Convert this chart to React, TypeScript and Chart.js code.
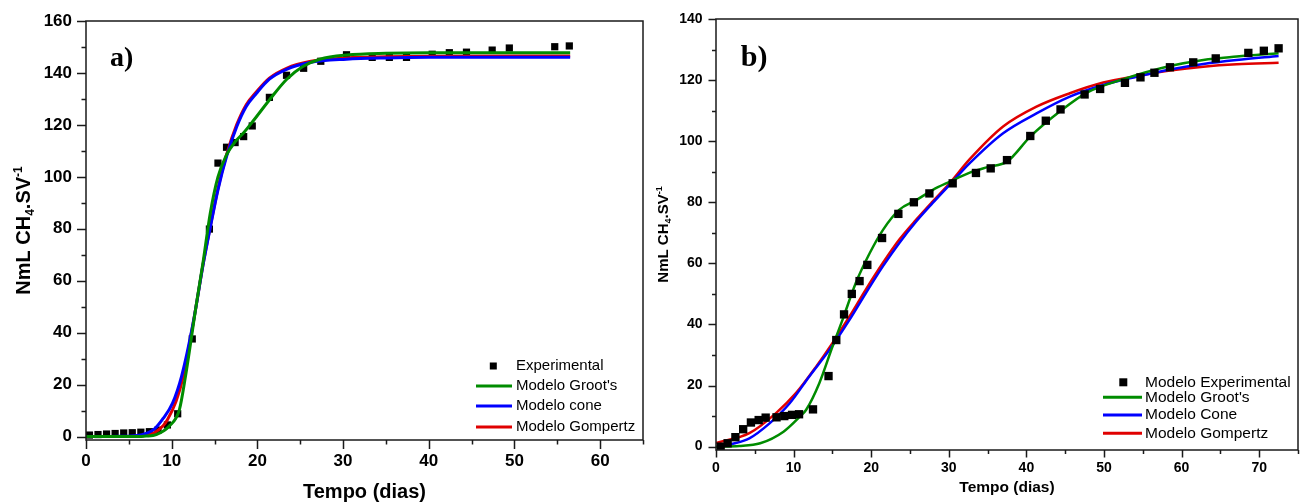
import React, { useEffect, useRef } from 'react';
import { Chart, registerables } from 'chart.js';

Chart.register(...registerables);

const FONT = "'Liberation Sans', Arial, Helvetica, sans-serif";
const SERIF = "'Liberation Serif', 'Times New Roman', serif";

const GREEN = '#008c00';
const BLUE = '#0000ff';
const RED = '#e00000';

// ---------- Panel a ----------
const aExpDays = [0.4, 1.4, 2.4, 3.4, 4.4, 5.4, 6.4, 7.4, 8.4, 9.5, 10.7, 12.4, 14.4, 15.4, 16.4, 17.4, 18.4, 19.4, 21.4, 23.4, 25.4, 27.4, 30.4, 33.4, 35.4, 37.4, 40.4, 42.4, 44.4, 47.4, 49.4, 54.7, 56.4];
const aExpVals = [0.6, 0.8, 1.0, 1.2, 1.4, 1.5, 1.7, 1.9, 2.5, 4.5, 8.8, 37.6, 79.9, 105.3, 111.4, 113.2, 115.5, 119.6, 130.6, 139.1, 141.8, 144.5, 147.0, 146.0, 146.0, 146.0, 147.2, 147.8, 148.0, 148.8, 149.6, 150.1, 150.4];

const aGrootDays = [0, 4, 6, 7, 8.2, 9.7, 10.9, 11.6, 12.9, 13.7, 14.5, 15.4, 16.4, 17.4, 18.4, 19.5, 21.4, 23.4, 25.3, 27.3, 30.4, 35, 40, 56.5];
const aGrootVals = [0, 0, 0, 0.2, 0.8, 4.0, 10.4, 23.0, 51.4, 68.0, 86.0, 100.0, 108.5, 113.5, 117.0, 121.5, 129.6, 137.5, 142.5, 145.3, 146.9, 147.6, 147.8, 147.8];

const aConeDays = [0, 4, 6, 7, 8, 9, 10.1, 11.15, 12.5, 13.7, 14.45, 15.4, 16.4, 17.6, 18.7, 19.9, 21.4, 23.4, 26.1, 30.4, 35, 40, 56.5];
const aConeVals = [0, 0.1, 0.4, 1.2, 3.0, 7.0, 12.9, 23.2, 43.7, 66.8, 79.6, 95.0, 107.8, 119.4, 127.1, 132.2, 137.6, 141.4, 144.0, 145.3, 145.8, 146.0, 146.0];

const aGompDays = [0, 4, 6, 7, 8, 9, 9.5, 10.5, 11.3, 12.5, 13.7, 14.45, 15.4, 16.4, 17.6, 18.7, 19.9, 21.4, 23.4, 26.1, 30.4, 35, 40, 56.5];
const aGompVals = [0, 0, 0.1, 0.5, 1.6, 4.2, 6.5, 13.5, 22.5, 43.5, 67.0, 80.0, 95.5, 108.5, 120.2, 127.8, 132.8, 138.0, 141.8, 144.4, 145.8, 146.2, 146.4, 146.5];

const aXTicks = [0, 5, 10, 15, 20, 25, 30, 35, 40, 45, 50, 55, 60, 65];
const aYTicks = [0, 10, 20, 30, 40, 50, 60, 70, 80, 90, 100, 110, 120, 130, 140, 150, 160];
const aLegend = ['Experimental', "Modelo Groot's", 'Modelo cone', 'Modelo Gompertz'];

// ---------- Panel b ----------
const bExpDays = [0.6, 1.5, 2.5, 3.5, 4.5, 5.5, 6.4, 7.8, 8.8, 9.8, 10.7, 12.5, 14.5, 15.5, 16.5, 17.5, 18.5, 19.5, 21.4, 23.5, 25.5, 27.5, 30.5, 33.5, 35.4, 37.5, 40.5, 42.5, 44.4, 47.5, 49.5, 52.7, 54.7, 56.5, 58.5, 61.5, 64.4, 68.6, 70.6, 72.5];
const bExpVals = [0, 1.1, 3.1, 5.7, 7.9, 8.7, 9.5, 9.6, 10.0, 10.4, 10.6, 12.2, 23.1, 34.9, 43.3, 50.0, 54.2, 59.5, 68.3, 76.2, 80.0, 82.9, 86.2, 89.6, 91.1, 93.8, 101.7, 106.7, 110.4, 115.3, 117.1, 119.1, 120.9, 122.4, 124.2, 125.8, 127.1, 128.9, 129.6, 130.4];

const bGrootDays = [0, 3, 5.7, 8.7, 10.8, 11.6, 13.3, 15.0, 16.3, 18.0, 19.8, 21.5, 23.6, 25.8, 27.9, 30.1, 32.7, 35, 37.5, 40.5, 44.3, 47.8, 52.5, 58.5, 62.8, 67.1, 72.5];
const bGrootVals = [0, 0.2, 1.1, 4.9, 9.8, 12.0, 20.7, 32.7, 41.5, 53.5, 63.3, 70.9, 77.5, 80.7, 84.0, 86.7, 89.7, 91.5, 93.3, 101.5, 109.7, 115.9, 120.3, 124.6, 126.6, 127.7, 128.8];

const bConeDays = [0.8, 1.7, 4.3, 6.9, 9.5, 12.0, 14.6, 17.2, 19.3, 21.5, 23.6, 25.8, 27.9, 30.1, 32.7, 37.0, 41.3, 45.6, 49.9, 54.2, 58.5, 62.8, 67.1, 72.5];
const bConeVals = [0, 0.6, 2.7, 7.6, 14.2, 22.9, 31.6, 41.5, 50.2, 59.0, 66.6, 73.7, 79.7, 85.7, 92.8, 102.6, 109.1, 114.6, 118.4, 121.1, 123.5, 125.3, 126.6, 127.9];

const bGompDays = [0, 4.3, 7.7, 10.3, 12.9, 15.0, 17.2, 19.3, 21.5, 23.6, 25.8, 27.9, 30.1, 32.7, 37.0, 41.3, 45.6, 49.9, 54.2, 58.5, 62.8, 67.1, 72.5];
const bGompVals = [1.2, 4.4, 10.9, 17.5, 26.2, 33.9, 42.6, 51.4, 60.1, 67.7, 74.3, 80.2, 86.2, 94.1, 104.8, 111.3, 115.7, 119.2, 121.3, 123.1, 124.4, 125.2, 125.7];

const bXTicks = [0, 5, 10, 15, 20, 25, 30, 35, 40, 45, 50, 55, 60, 65, 70, 75];
const bYTicks = [0, 10, 20, 30, 40, 50, 60, 70, 80, 90, 100, 110, 120, 130, 140];
const bLegend = ['Modelo Experimental', "Modelo Groot's", 'Modelo Cone', 'Modelo Gompertz'];

const pts = (xs: number[], ys: number[]) => xs.map((x, i) => ({ x, y: ys[i] }));

type Spec = {
  key: string;
  left: number;
  w: number;
  pad: { top: number; right: number };
  yAxisW: number;
  xAxisH: number;
  xMax: number;
  yMin: number;
  yMax: number;
  xTicks: number[];
  yTicks: number[];
  xMajor: number;
  yMajor: number;
  majorLen: number;
  minorLen: number;
  tickSize: number;
  xPad: number;
  yPad: number;
  exp: { x: number; y: number }[];
  groot: { x: number; y: number }[];
  cone: { x: number; y: number }[];
  gomp: { x: number; y: number }[];
  pointR: number;
  lineW: number;
  pointsOnTop: boolean;
  legend: string[];
  legend_: {
    markerDX: number; markerSize: number; lineX0: number; lineX1: number; textDX: number;
    rowsDY: number[]; size: number;
  };
  xTitleSize: number; xTitleY: number;
  yTitleSize: number; yTitleX: number;
  letter: string; letterSize: number; letterX: number; letterY: number;
};

function drawYTitle(ctx: CanvasRenderingContext2D, x: number, y: number, size: number) {
  ctx.save();
  ctx.translate(x, y);
  ctx.rotate(-Math.PI / 2);
  const big = `bold ${size}px ${FONT}`;
  const small = `bold ${Math.round(size * 0.62)}px ${FONT}`;
  const parts = [
    { t: 'NmL CH', f: big, dy: 0 },
    { t: '4', f: small, dy: size * 0.22 },
    { t: '.SV', f: big, dy: 0 },
    { t: '-1', f: small, dy: -size * 0.42 },
  ];
  let total = 0;
  const widths = parts.map((p) => {
    ctx.font = p.f;
    const w = ctx.measureText(p.t).width;
    total += w;
    return w;
  });
  let cx = -total / 2;
  ctx.fillStyle = '#000';
  ctx.textAlign = 'left';
  ctx.textBaseline = 'alphabetic';
  parts.forEach((p, i) => {
    ctx.font = p.f;
    ctx.fillText(p.t, cx, p.dy);
    cx += widths[i];
  });
  ctx.restore();
}

function buildConfig(s: Spec): any {
  const curve = (label: string, data: any[], color: string, order: number) => ({
    label,
    data,
    showLine: true,
    borderColor: color,
    backgroundColor: color,
    borderWidth: s.lineW,
    pointRadius: 0,
    pointHoverRadius: 0,
    cubicInterpolationMode: 'monotone',
    fill: false,
    order,
  });
  const expSet = {
    label: s.legend[0],
    data: s.exp,
    showLine: false,
    pointStyle: 'rect',
    pointRadius: s.pointR,
    pointBorderWidth: 0,
    borderWidth: 0,
    backgroundColor: '#000',
    borderColor: '#000',
    order: s.pointsOnTop ? 0 : 10,
  };
  const decor = {
    id: 'decor_' + s.key,
    afterDraw(chart: any) {
      const { ctx, chartArea: ca } = chart;
      const xs = chart.scales.x;
      const ys = chart.scales.y;
      ctx.save();
      ctx.strokeStyle = '#1a1a1a';
      ctx.lineWidth = 1.5;
      ctx.strokeRect(ca.left, ca.top, ca.right - ca.left, ca.bottom - ca.top);
      ctx.beginPath();
      s.xTicks.forEach((v) => {
        const px = Math.round(xs.getPixelForValue(v)) + 0.5;
        const len = v % s.xMajor === 0 ? s.majorLen : s.minorLen;
        ctx.moveTo(px, ca.bottom);
        ctx.lineTo(px, ca.bottom + len);
      });
      s.yTicks.forEach((v) => {
        const py = Math.round(ys.getPixelForValue(v)) + 0.5;
        const len = v % s.yMajor === 0 ? s.majorLen : s.minorLen;
        ctx.moveTo(ca.left - len, py);
        ctx.lineTo(ca.left, py);
      });
      ctx.stroke();

      // axis titles
      ctx.fillStyle = '#000';
      ctx.font = `bold ${s.xTitleSize}px ${FONT}`;
      ctx.textAlign = 'center';
      ctx.textBaseline = 'middle';
      ctx.fillText('Tempo (dias)', (ca.left + ca.right) / 2, s.xTitleY);
      drawYTitle(ctx, s.yTitleX, (ca.top + ca.bottom) / 2, s.yTitleSize);

      // panel letter
      ctx.font = `bold ${s.letterSize}px ${SERIF}`;
      ctx.textAlign = 'left';
      ctx.textBaseline = 'alphabetic';
      ctx.fillText(s.letter, s.letterX, s.letterY);

      // legend
      const L = s.legend_;
      const colors = [null, GREEN, BLUE, RED];
      ctx.font = `${L.size}px ${FONT}`;
      ctx.textBaseline = 'middle';
      ctx.textAlign = 'left';
      s.legend.forEach((txt, i) => {
        const y = ca.bottom - L.rowsDY[i];
        if (i === 0) {
          ctx.fillStyle = '#000';
          ctx.fillRect(ca.right - L.markerDX - L.markerSize / 2, y - L.markerSize / 2, L.markerSize, L.markerSize);
        } else {
          ctx.strokeStyle = colors[i] as string;
          ctx.lineWidth = 3;
          ctx.beginPath();
          ctx.moveTo(ca.right - L.lineX0, y);
          ctx.lineTo(ca.right - L.lineX1, y);
          ctx.stroke();
        }
        ctx.fillStyle = '#000';
        ctx.fillText(txt, ca.right - L.textDX, y);
      });
      ctx.restore();
    },
  };

  const tickFont = { family: FONT, size: s.tickSize, weight: 'bold' as const };
  return {
    type: 'scatter',
    data: {
      datasets: [
        curve(s.legend[1], s.groot, GREEN, 1),
        curve(s.legend[2], s.cone, BLUE, 2),
        curve(s.legend[3], s.gomp, RED, 3),
        expSet,
      ],
    },
    options: {
      responsive: false,
      maintainAspectRatio: false,
      animation: false,
      devicePixelRatio: 1,
      layout: { padding: { left: 0, top: s.pad.top, right: s.pad.right, bottom: 0 } },
      plugins: { legend: { display: false }, tooltip: { enabled: false }, title: { display: false } },
      events: [],
      scales: {
        x: {
          type: 'linear',
          min: 0,
          max: s.xMax,
          afterBuildTicks: (sc: any) => {
            sc.ticks = s.xTicks.map((v) => ({ value: v }));
          },
          afterFit: (sc: any) => {
            sc.height = s.xAxisH;
          },
          grid: { display: false, drawTicks: true, tickLength: s.majorLen },
          border: { display: false },
          ticks: {
            autoSkip: false,
            maxRotation: 0,
            minRotation: 0,
            padding: s.xPad,
            color: '#000',
            font: tickFont,
            callback: (v: number) => (v % s.xMajor === 0 ? String(v) : ''),
          },
        },
        y: {
          type: 'linear',
          min: s.yMin,
          max: s.yMax,
          afterBuildTicks: (sc: any) => {
            sc.ticks = s.yTicks.map((v) => ({ value: v }));
          },
          afterFit: (sc: any) => {
            sc.width = s.yAxisW;
          },
          grid: { display: false, drawTicks: true, tickLength: s.majorLen },
          border: { display: false },
          ticks: {
            autoSkip: false,
            padding: s.yPad,
            color: '#000',
            font: tickFont,
            callback: (v: number) => (v % s.yMajor === 0 ? String(v) : ''),
          },
        },
      },
    },
    plugins: [decor],
  };
}

const specA: Spec = {
  key: 'a', left: 0, w: 653,
  pad: { top: 21, right: 10 },
  yAxisW: 86, xAxisH: 64,
  xMax: 65, yMin: -1.3, yMax: 160,
  xTicks: aXTicks, yTicks: aYTicks, xMajor: 10, yMajor: 20,
  majorLen: 9, minorLen: 4.5, tickSize: 17, xPad: 2, yPad: 5,
  exp: pts(aExpDays, aExpVals),
  groot: pts(aGrootDays, aGrootVals),
  cone: pts(aConeDays, aConeVals),
  gomp: pts(aGompDays, aGompVals),
  pointR: 5.1, lineW: 3, pointsOnTop: false,
  legend: aLegend,
  legend_: { markerDX: 149.7, markerSize: 7, lineX0: 167, lineX1: 131, textDX: 127, rowsDY: [74, 54, 34, 13], size: 15 },
  xTitleSize: 20, xTitleY: 492,
  yTitleSize: 20, yTitleX: 30,
  letter: 'a)', letterSize: 28, letterX: 110, letterY: 66,
};

const specB: Spec = {
  key: 'b', left: 653, w: 653,
  pad: { top: 19, right: 8 },
  yAxisW: 63, xAxisH: 54,
  xMax: 75, yMin: -1.1, yMax: 140,
  xTicks: bXTicks, yTicks: bYTicks, xMajor: 10, yMajor: 20,
  majorLen: 7.5, minorLen: 4, tickSize: 14, xPad: 2, yPad: 6,
  exp: pts(bExpDays, bExpVals),
  groot: pts(bGrootDays, bGrootVals),
  cone: pts(bConeDays, bConeVals),
  gomp: pts(bGompDays, bGompVals),
  pointR: 5.9, lineW: 2.5, pointsOnTop: true,
  legend: bLegend,
  legend_: { markerDX: 174.7, markerSize: 8, lineX0: 195, lineX1: 156, textDX: 153, rowsDY: [67.7, 52.7, 35, 16.7], size: 15.5 },
  xTitleSize: 15.5, xTitleY: 488,
  yTitleSize: 15, yTitleX: 15,
  letter: 'b)', letterSize: 30, letterX: 87.7, letterY: 66,
};

function Panel({ spec }: { spec: Spec }) {
  const ref = useRef<HTMLCanvasElement>(null);
  useEffect(() => {
    if (!ref.current) return;
    const chart = new Chart(ref.current, buildConfig(spec));
    return () => chart.destroy();
  }, [spec]);
  return (
    <canvas
      ref={ref}
      width={spec.w}
      height={504}
      style={{ position: 'absolute', left: spec.left, top: 0, width: spec.w, height: 504 }}
    />
  );
}

export default function App() {
  return (
    <div style={{ position: 'absolute', left: 0, top: 0, width: 1306, height: 504, background: '#fff' }}>
      <Panel spec={specA} />
      <Panel spec={specB} />
    </div>
  );
}
